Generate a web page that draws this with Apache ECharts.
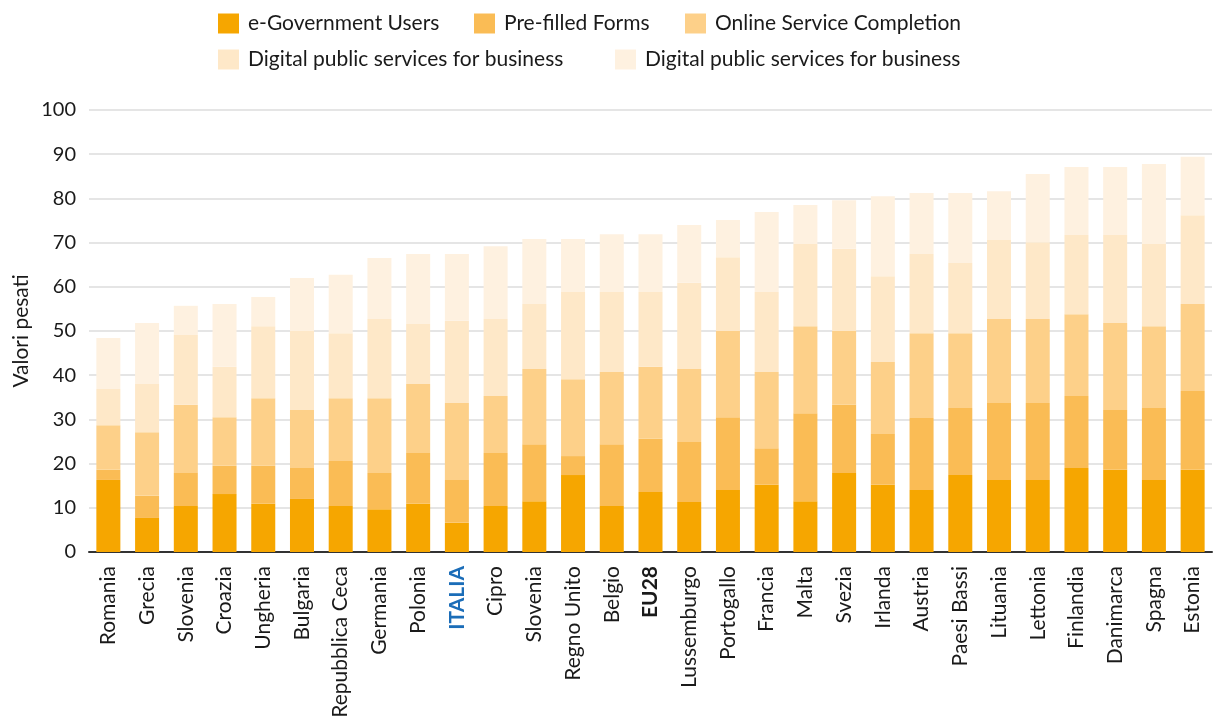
<!DOCTYPE html>
<html>
<head>
<meta charset="utf-8">
<script src="https://cdn.jsdelivr.net/npm/echarts@6/dist/echarts.min.js"></script>
<style>
  html, body { margin: 0; padding: 0; background: #ffffff; }
  #chart { width: 1215px; height: 724px; }
</style>
</head>
<body>
<div id="chart"></div>
<script>
// Categories (countries) along the x axis
const categories = ['Romania','Grecia','Slovenia','Croazia','Ungheria','Bulgaria','Repubblica Ceca','Germania','Polonia','ITALIA','Cipro','Slovenia','Regno Unito','Belgio','EU28','Lussemburgo','Portogallo','Francia','Malta','Svezia','Irlanda','Austria','Paesi Bassi','Lituania','Lettonia','Finlandia','Danimarca','Spagna','Estonia'];

// Weighted values of each component (stacked)
const eGovernmentUsers = [16.3,7.7,10.4,13.1,10.9,12.0,10.4,9.7,10.9,6.6,10.4,11.5,17.4,10.4,13.6,11.3,14.0,15.2,11.5,17.9,15.2,14.0,17.4,16.3,16.3,19.0,18.6,16.3,18.6];
const preFilledForms = [2.3,5.0,7.5,6.4,8.6,7.0,10.2,8.2,11.5,9.7,12.0,12.9,4.3,14.0,12.0,13.6,16.5,8.3,19.9,15.4,11.5,16.3,15.2,17.4,17.4,16.3,13.5,16.3,17.8];
const onlineServiceCompletion = [10.1,14.4,15.4,11.0,15.3,13.1,14.2,16.9,15.6,17.4,12.9,17.0,17.4,16.3,16.3,16.5,19.5,17.2,19.7,16.7,16.3,19.2,16.9,19.0,19.0,18.5,19.7,18.5,19.7];
const digitalBusinessA = [8.2,10.9,15.8,11.4,16.3,17.9,14.7,17.9,13.6,18.6,17.4,14.7,19.7,18.1,16.9,19.5,16.7,18.1,18.6,18.6,19.4,17.9,15.9,17.9,17.4,17.9,19.9,18.6,20.1];
const digitalBusinessB = [11.5,13.8,6.6,14.2,6.6,12.0,13.2,13.8,15.8,15.1,16.5,14.7,12.0,13.1,13.1,13.1,8.4,18.1,8.8,11.0,18.1,13.8,15.8,11.0,15.4,15.4,15.4,18.1,13.2];

// Y axis ticks and title
const yTicks = [0,10,20,30,40,50,60,70,80,90,100];
const yTitle = 'Valori pesati';

// Series keys, legend labels and colours
const seriesKeys = ['egov','prefilled','online','dpsA','dpsB'];
const seriesLabels = {
  egov: 'e-Government Users',
  prefilled: 'Pre-filled Forms',
  online: 'Online Service Completion',
  dpsA: 'Digital public services for business',
  dpsB: 'Digital public services for business'
};
const seriesData = {
  egov: eGovernmentUsers,
  prefilled: preFilledForms,
  online: onlineServiceCompletion,
  dpsA: digitalBusinessA,
  dpsB: digitalBusinessB
};
const colors = {
  egov: '#F6A600',
  prefilled: '#FABC55',
  online: '#FDD089',
  dpsA: '#FEE8C8',
  dpsB: '#FEF1E0'
};

const FONT = 'Lato, "Noto Sans", sans-serif';
const TEXT = '#1a1a1a';

// One legend block per item so the two rows line up as laid out
const legendSlots = [
  { key: 'egov', left: 218, top: 13 },
  { key: 'prefilled', left: 474, top: 13 },
  { key: 'online', left: 685, top: 13 },
  { key: 'dpsA', left: 218, top: 49 },
  { key: 'dpsB', left: 615, top: 49 }
];

const legends = legendSlots.map(s => ({
  data: [s.key],
  left: s.left,
  top: s.top,
  padding: 0,
  icon: 'rect',
  itemWidth: 21,
  itemHeight: 20,
  selectedMode: false,
  formatter: name => seriesLabels[name],
  textStyle: { fontFamily: FONT, fontSize: 21, color: TEXT, padding: [0, 0, 0, 4] }
}));

const series = seriesKeys.map(k => ({
  name: k,
  type: 'bar',
  stack: 'total',
  data: seriesData[k],
  barWidth: '62%',
  itemStyle: { color: colors[k] },
  emphasis: { disabled: true }
}));

const chart = echarts.init(document.getElementById('chart'), null, { renderer: 'canvas' });
chart.setOption({
  animation: false,
  backgroundColor: '#ffffff',
  color: seriesKeys.map(k => colors[k]),
  legend: legends,
  grid: { left: 89, right: 3, top: 110, bottom: 172, containLabel: false },
  // Vertical title of the value axis
  graphic: [{
    type: 'text',
    x: 21,
    y: 331,
    rotation: Math.PI / 2,
    style: {
      text: yTitle,
      fontFamily: FONT,
      fontSize: 21,
      fill: TEXT,
      align: 'center',
      verticalAlign: 'middle'
    }
  }],
  xAxis: {
    type: 'category',
    data: categories,
    axisTick: { show: false },
    axisLine: { lineStyle: { color: '#333333', width: 2 } },
    axisLabel: {
      rotate: 90,
      interval: 0,
      margin: 14,
      fontFamily: FONT,
      fontSize: 21,
      color: TEXT,
      formatter: v => v === 'ITALIA' ? '{it|' + v + '}' : (v === 'EU28' ? '{eu|' + v + '}' : v),
      rich: {
        it: { fontFamily: FONT, fontSize: 21, fontWeight: 'bold', color: '#1B6DB8' },
        eu: { fontFamily: FONT, fontSize: 21, fontWeight: 'bold', color: TEXT }
      }
    }
  },
  yAxis: {
    type: 'value',
    min: yTicks[0],
    max: yTicks[yTicks.length - 1],
    interval: yTicks[1] - yTicks[0],
    axisLine: { show: false },
    axisTick: { show: false },
    axisLabel: { fontFamily: FONT, fontSize: 20, color: TEXT, margin: 13 },
    splitLine: { lineStyle: { color: '#dddddd', width: 1.5 } }
  },
  series: series
});
</script>
</body>
</html>
